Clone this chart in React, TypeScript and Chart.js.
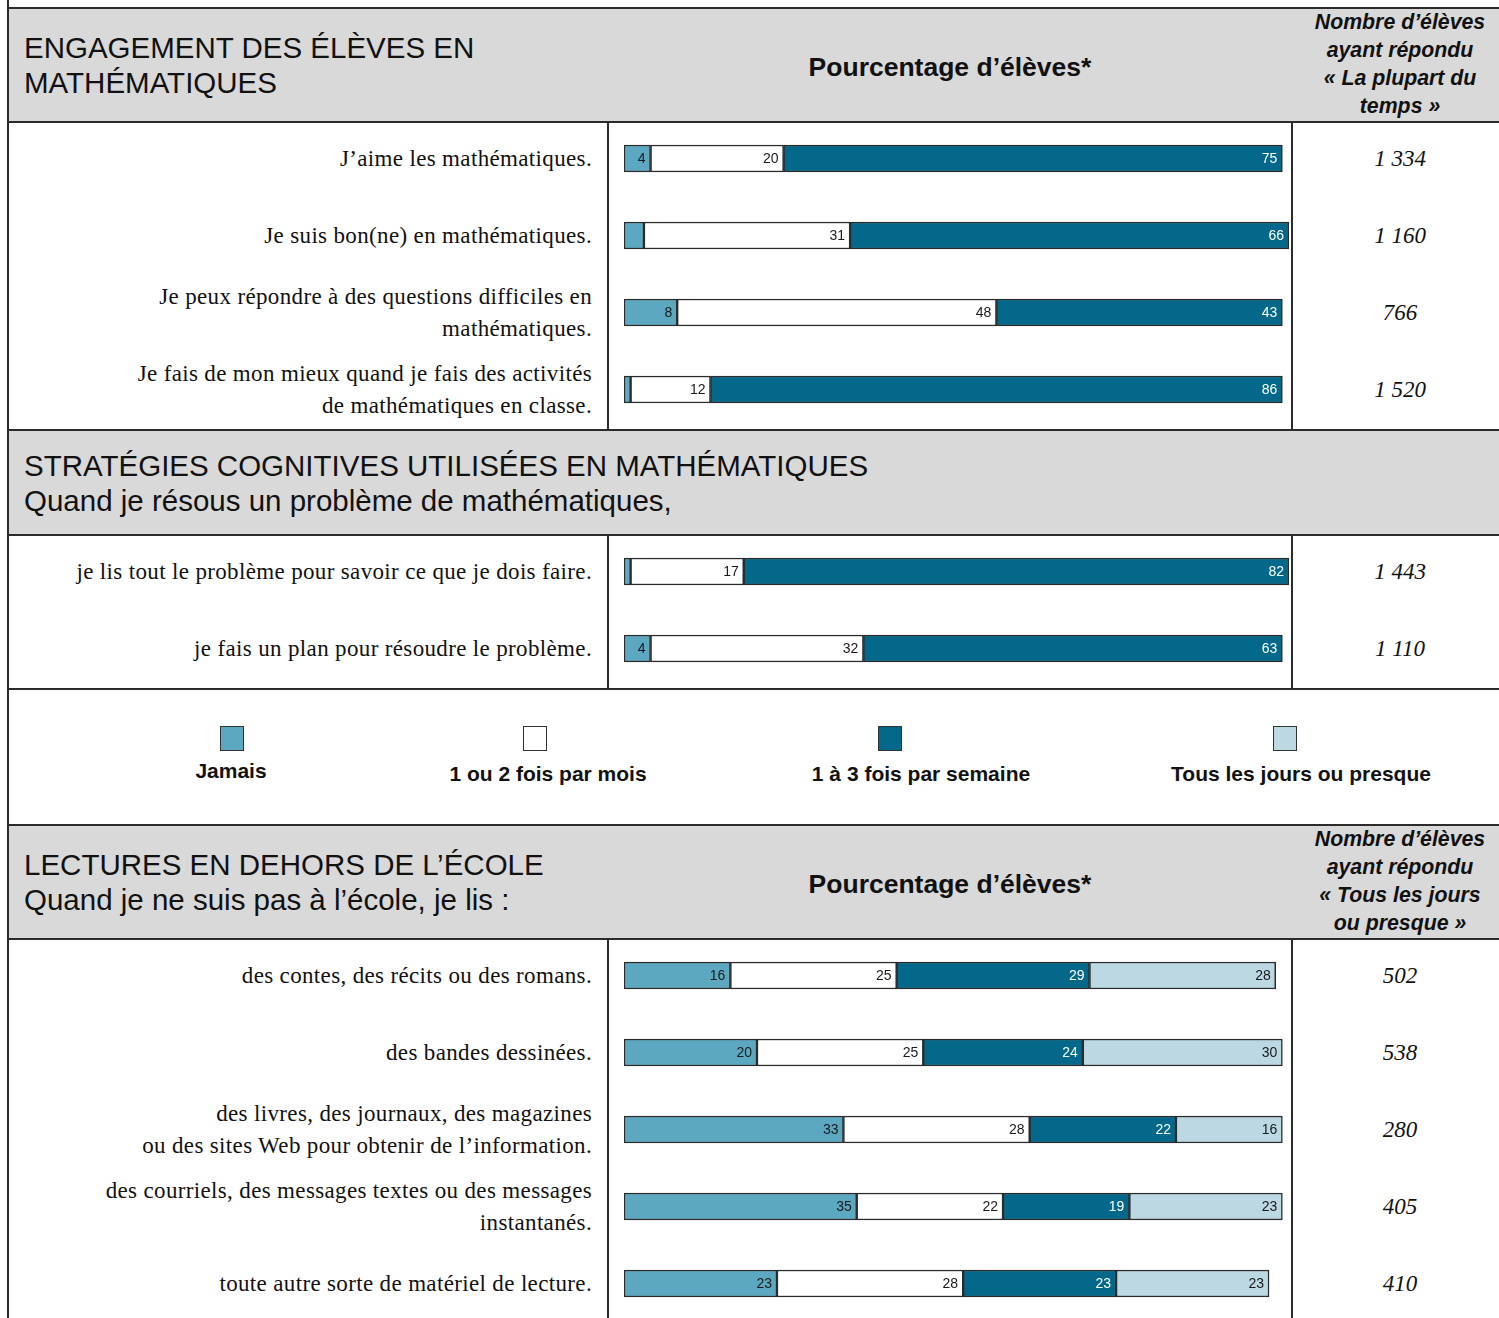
import React, { useEffect, useRef } from "react";
import { Chart, registerables } from "chart.js";

Chart.register(...registerables);

// ---------- DATA ----------
const engagementItems = [
  ["J’aime les mathématiques."],
  ["Je suis bon(ne) en mathématiques."],
  ["Je peux répondre à des questions difficiles en", "mathématiques."],
  ["Je fais de mon mieux quand je fais des activités", "de mathématiques en classe."],
];
const engagementJamais = [4, 3, 8, 1];
const engagementMois = [20, 31, 48, 12];
const engagementSemaine = [75, 66, 43, 86];
const engagementCounts = ["1 334", "1 160", "766", "1 520"];

const strategyItems = [
  ["je lis tout le problème pour savoir ce que je dois faire."],
  ["je fais un plan pour résoudre le problème."],
];
const strategyJamais = [1, 4];
const strategyMois = [17, 32];
const strategySemaine = [82, 63];
const strategyCounts = ["1 443", "1 110"];

const readingItems = [
  ["des contes, des récits ou des romans."],
  ["des bandes dessinées."],
  ["des livres, des journaux, des magazines", "ou des sites Web pour obtenir de l’information."],
  ["des courriels, des messages textes ou des messages", "instantanés."],
  ["toute autre sorte de matériel de lecture."],
];
const readingJamais = [16, 20, 33, 35, 23];
const readingMois = [25, 25, 28, 22, 28];
const readingSemaine = [29, 24, 22, 19, 23];
const readingJours = [28, 30, 16, 23, 23];
const readingCounts = ["502", "538", "280", "405", "410"];

const legendLabels = ["Jamais", "1 ou 2 fois par mois", "1 à 3 fois par semaine", "Tous les jours ou presque"];

// ---------- STYLE ----------
const COLORS = ["#5CA8C1", "#FFFFFF", "#03688A", "#BBD8E3"];
const TEXT_COLORS = ["#1a1a1a", "#1a1a1a", "#FFFFFF", "#1a1a1a"];
const GRAY = "#D9D9D9";
const LINE = "#2b2b2b";
const ROW = 77;
const CHART_LEFT = 608;
const CHART_W = 684;
const RIGHT_COL = 1292;
const SANS = "'Liberation Sans', Arial, sans-serif";
const SERIF = "'Liberation Serif', 'Times New Roman', serif";

const valueLabelPlugin = {
  id: "valueLabels",
  afterDatasetsDraw(chart: any) {
    const ctx = chart.ctx;
    ctx.save();
    ctx.font = "14px 'Liberation Sans', Arial, sans-serif";
    ctx.textAlign = "right";
    ctx.textBaseline = "middle";
    chart.data.datasets.forEach((ds: any, di: number) => {
      const meta = chart.getDatasetMeta(di);
      meta.data.forEach((bar: any, i: number) => {
        const v = ds.data[i];
        if (v < 4) return;
        ctx.fillStyle = ds.textColor;
        ctx.fillText(String(v), bar.x - 5, bar.y + 1);
      });
    });
    ctx.restore();
  },
};

function StackedBars({ series, rows, height }: { series: number[][]; rows: number; height: number }) {
  const ref = useRef<HTMLCanvasElement>(null);
  useEffect(() => {
    if (!ref.current) return;
    const labels = Array.from({ length: rows }, (_, i) => String(i));
    const chart = new Chart(ref.current, {
      type: "bar",
      data: {
        labels,
        datasets: series.map((data, k) => ({
          data,
          backgroundColor: COLORS[k],
          borderColor: LINE,
          borderWidth: 1.5,
          borderSkipped: false,
          barThickness: 27,
          textColor: TEXT_COLORS[k],
        })) as any,
      },
      options: {
        indexAxis: "y",
        animation: false,
        responsive: false,
        devicePixelRatio: 1,
        layout: { padding: { left: 16, right: 3, top: 0, bottom: 0 } },
        plugins: { legend: { display: false }, tooltip: { enabled: false } },
        scales: {
          x: { stacked: true, min: 0, max: 100, display: false },
          y: { stacked: true, display: false },
        },
      },
      plugins: [valueLabelPlugin],
    });
    return () => chart.destroy();
  }, []);
  return <canvas ref={ref} width={CHART_W} height={height} style={{ display: "block" }} />;
}

const abs = (s: React.CSSProperties): React.CSSProperties => ({ position: "absolute", ...s });

function HLine({ y }: { y: number }) {
  return <div style={abs({ left: 8, top: y - 1, width: 1491, height: 2, background: LINE })} />;
}
function VLine({ x, y1, y2 }: { x: number; y1: number; y2: number }) {
  return <div style={abs({ left: x - 1, top: y1, width: 2, height: y2 - y1, background: LINE })} />;
}

function Header({ top, height, lines, middle, right }: { top: number; height: number; lines: string[]; middle?: string; right?: string[] }) {
  return (
    <>
      <div style={abs({ left: 9, top, width: 1490, height, background: GRAY })} />
      <div
        style={abs({
          left: 24,
          top,
          height,
          width: 900,
          display: "flex",
          flexDirection: "column",
          justifyContent: "center",
          fontFamily: SANS,
          fontSize: 29.5,
          lineHeight: "35px",
          color: "#111",
          whiteSpace: "nowrap",
        })}
      >
        {lines.map((l, i) => (
          <div key={i}>{l}</div>
        ))}
      </div>
      {middle && (
        <div
          style={abs({
            left: CHART_LEFT,
            width: CHART_W,
            top: top + 2,
            height,
            display: "flex",
            alignItems: "center",
            justifyContent: "center",
            fontFamily: SANS,
            fontWeight: "bold",
            fontSize: 26.5,
            color: "#111",
          })}
        >
          {middle}
        </div>
      )}
      {right && (
        <div
          style={abs({
            left: RIGHT_COL,
            width: 216,
            top: top - 1,
            height,
            display: "flex",
            flexDirection: "column",
            justifyContent: "center",
            alignItems: "center",
            fontFamily: SANS,
            fontWeight: "bold",
            fontStyle: "italic",
            fontSize: 21.3,
            lineHeight: "28px",
            color: "#111",
            textAlign: "center",
          })}
        >
          {right.map((l, i) => (
            <div key={i} style={{ whiteSpace: "nowrap" }}>{l}</div>
          ))}
        </div>
      )}
    </>
  );
}

function Section({ top, height, items, series, counts }: { top: number; height: number; items: string[][]; series: number[][]; counts: string[] }) {
  const rows = items.length;
  const chartH = rows * ROW;
  return (
    <>
      {items.map((lines, i) => (
        <div
          key={"l" + i}
          style={abs({
            left: 10,
            width: 582,
            top: top + (i + 0.5) * ROW - 1.5,
            transform: "translateY(-50%)",
            textAlign: "right",
            fontFamily: SERIF,
            fontSize: 23,
            letterSpacing: "0.35px",
            lineHeight: "32px",
            color: "#111",
            whiteSpace: "nowrap",
          })}
        >
          {lines.map((l, j) => (
            <div key={j}>{l}</div>
          ))}
        </div>
      ))}
      <div style={abs({ left: CHART_LEFT, top: top - 2, width: CHART_W, height: height + 2, overflow: "hidden" })}>
        <StackedBars series={series} rows={rows} height={chartH} />
      </div>
      {counts.map((c, i) => (
        <div
          key={"c" + i}
          style={abs({
            left: RIGHT_COL,
            width: 216,
            top: top + (i + 0.5) * ROW - 1.5,
            transform: "translateY(-50%)",
            textAlign: "center",
            fontFamily: SERIF,
            fontStyle: "italic",
            fontSize: 23,
            color: "#111",
          })}
        >
          {c}
        </div>
      ))}
      <VLine x={CHART_LEFT} y1={top} y2={top + height} />
      <VLine x={RIGHT_COL} y1={top} y2={top + height} />
    </>
  );
}

function Legend({ top }: { top: number }) {
  const swatchCenters = [232, 535, 890, 1285];
  const textCenters = [231, 548, 921, 1301];
  const textOffsets = [70, 73, 73, 73];
  return (
    <>
      {legendLabels.map((l, i) => (
        <React.Fragment key={i}>
          <div
            style={abs({
              left: swatchCenters[i] - 12,
              top: top + 37,
              width: 22,
              height: 23,
              background: COLORS[i],
              border: "1.5px solid #333",
            })}
          />
          <div
            style={abs({
              left: textCenters[i] - 200,
              width: 400,
              top: top + textOffsets[i],
              textAlign: "center",
              fontFamily: SANS,
              fontWeight: "bold",
              fontSize: 21,
              color: "#111",
            })}
          >
            {l}
          </div>
        </React.Fragment>
      ))}
    </>
  );
}

export default function App() {
  return (
    <div style={abs({ left: 0, top: 0, width: 1499, height: 1318, overflow: "hidden", background: "#fff" })}>
      <style>{"html,body{overflow:hidden;}"}</style>
      <Header
        top={8}
        height={114}
        lines={["ENGAGEMENT DES ÉLÈVES EN", "MATHÉMATIQUES"]}
        middle="Pourcentage d’élèves*"
        right={["Nombre d’élèves", "ayant répondu", "« La plupart du", "temps »"]}
      />
      <Section
        top={122}
        height={308}
        items={engagementItems}
        series={[engagementJamais, engagementMois, engagementSemaine]}
        counts={engagementCounts}
      />
      <Header
        top={430}
        height={105}
        lines={["STRATÉGIES COGNITIVES UTILISÉES EN MATHÉMATIQUES", "Quand je résous un problème de mathématiques,"]}
      />
      <Section
        top={535}
        height={154}
        items={strategyItems}
        series={[strategyJamais, strategyMois, strategySemaine]}
        counts={strategyCounts}
      />
      <Legend top={689} />
      <Header
        top={825}
        height={114}
        lines={["LECTURES EN DEHORS DE L’ÉCOLE", "Quand je ne suis pas à l’école, je lis :"]}
        middle="Pourcentage d’élèves*"
        right={["Nombre d’élèves", "ayant répondu", "« Tous les jours", "ou presque »"]}
      />
      <Section
        top={939}
        height={379}
        items={readingItems}
        series={[readingJamais, readingMois, readingSemaine, readingJours]}
        counts={readingCounts}
      />
      <HLine y={8} />
      <HLine y={122} />
      <HLine y={430} />
      <HLine y={535} />
      <HLine y={689} />
      <HLine y={825} />
      <HLine y={939} />
      <VLine x={8} y1={0} y2={1318} />
    </div>
  );
}
